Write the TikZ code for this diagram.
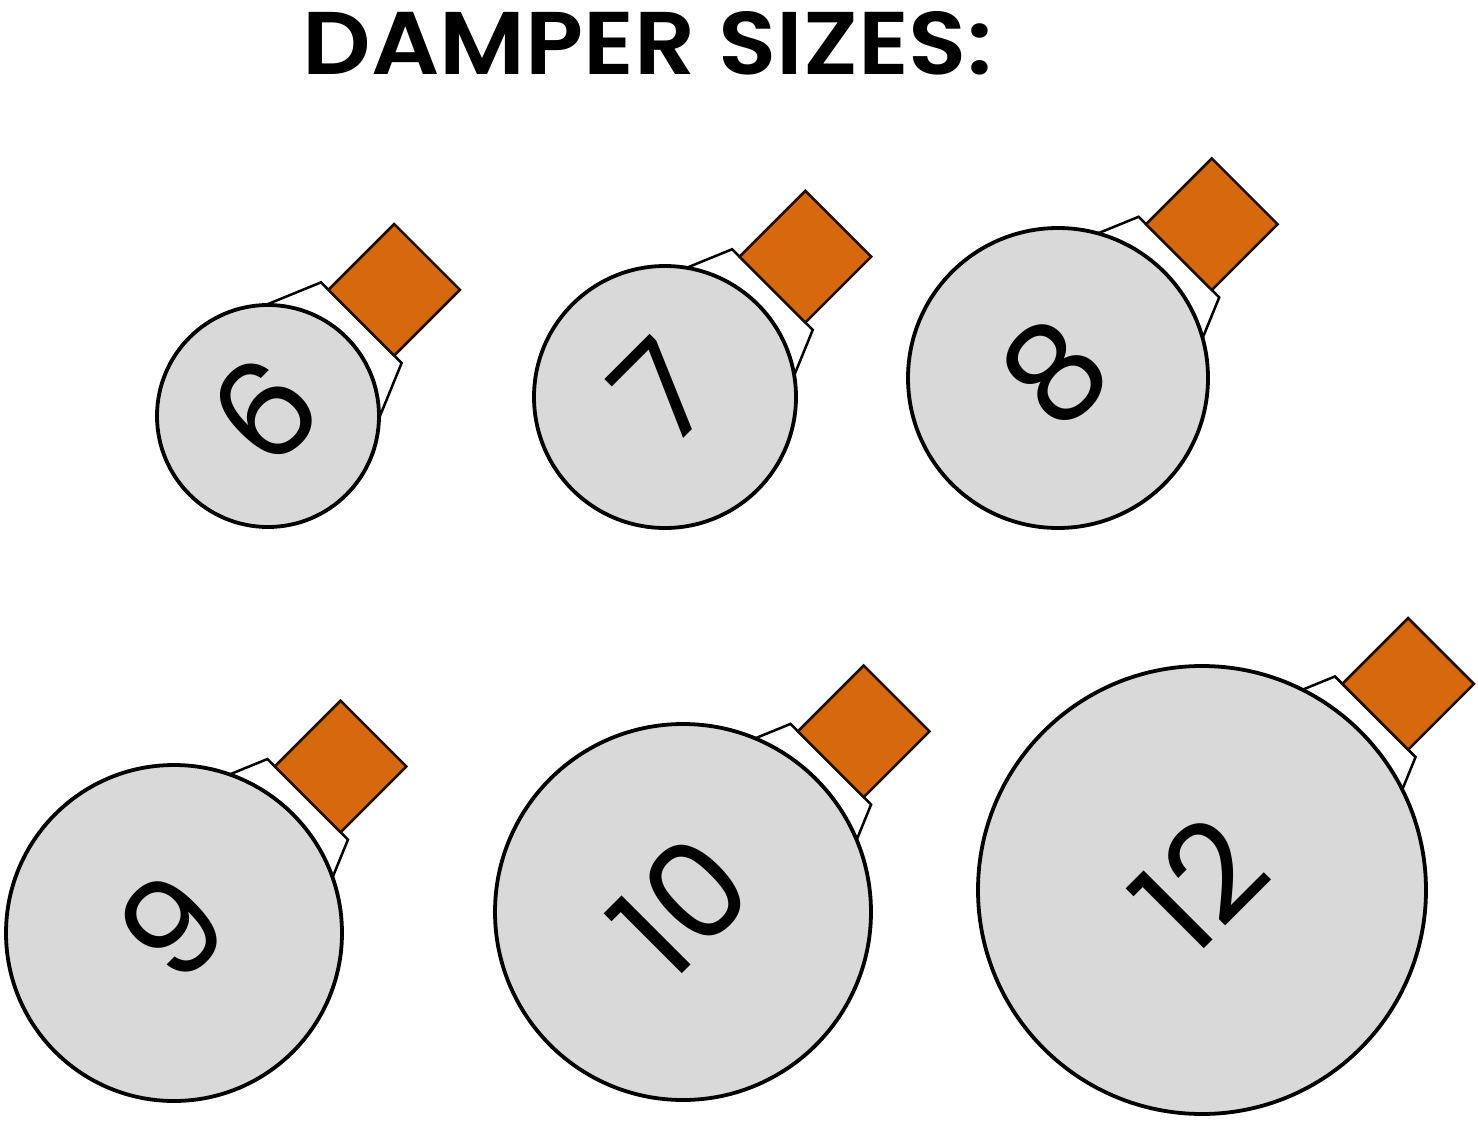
\documentclass[tikz,border=0pt]{standalone}
\usepackage{fontspec}
\setmainfont{Poppins}
\newfontfamily\headfont{Poppins SemiBold}
\usepackage{graphicx}
\definecolor{tabfill}{RGB}{214,104,14}
\definecolor{discfill}{RGB}{217,217,217}
\tikzset{
  disc/.style={draw=black, line width=3.8pt, fill=discfill},
  neck/.style={draw=black, line width=2.5pt, fill=white, line join=miter},
  tab/.style={draw=black!85!tabfill, line width=2.5pt, fill=tabfill},
  size label/.style={rotate=45, inner sep=0pt, font=\fontsize{135}{135}\selectfont}
}

\begin{document}
\begin{tikzpicture}[x=1pt,y=-1pt]
  \useasboundingbox (0,0) rectangle (1478,1121);

  % the heading
  \node (title) at (647.5,43.5) {\resizebox{689pt}{63pt}{\headfont DAMPER SIZES:}};

  % one damper for each size: neck and handle first, then the disc over them
  \foreach \cx/\cy/\rad/\size in {268/416/111/6, 665/397/131/7, 1058/378/150/8,
                                  174/933/168/9, 683/912/188/10, 1202/890/224/12}{
    \begin{scope}[shift={(\cx,\cy)}, rotate=45]
      \draw [neck] (\rad-60,-91) -- (\rad+21,-57) -- (\rad+21,57) -- (\rad-60,91) -- cycle;
      \draw [tab] (\rad+21,-46.5) rectangle (\rad+114,46.5);
    \end{scope}
    \draw [disc] (\cx,\cy) circle (\rad);
    \node [size label] (n\size) at (\cx-3,\cy-6) {\size};
  }
\end{tikzpicture}
\end{document}
